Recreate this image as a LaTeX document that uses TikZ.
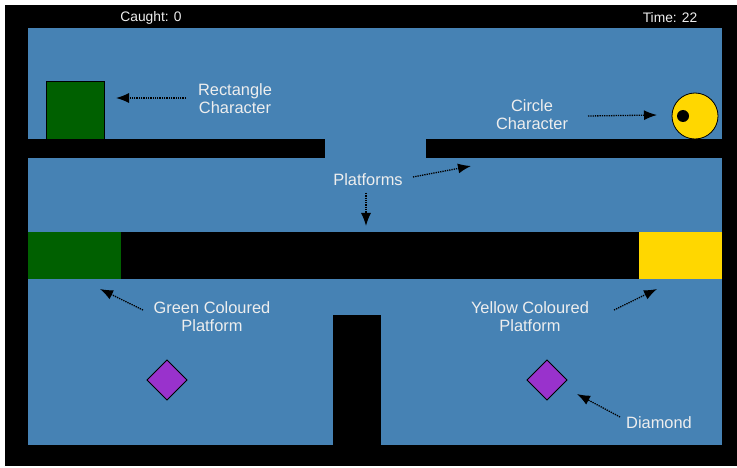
\documentclass[tikz,border=0pt]{standalone}
\usepackage{fontspec}
\setmainfont{Liberation Sans}
\usetikzlibrary{arrows.meta}
\definecolor{bgblue}{HTML}{4682B4}
\definecolor{dgreen}{HTML}{006000}
\definecolor{gold}{HTML}{FFD700}
\definecolor{purp}{HTML}{9932CC}
\definecolor{txt}{HTML}{EEEEEE}
\begin{document}
\begin{tikzpicture}[x=1pt,y=-1pt,
  lbl/.style={text=txt, align=center, inner sep=0pt, font=\fontsize{16.4}{18}\selectfont},
  hud/.style={text=txt, inner sep=0pt, font=\fontsize{13.8}{16}\selectfont},
  pointer/.style={densely dotted, line width=1.3pt, -{Latex[length=13pt,width=10pt]}},
  solidwall/.style={fill=black}]
\useasboundingbox (0,0) rectangle (737,468);
\fill[white] (0,0) rectangle (737,468);
\fill[black] (5,5) rectangle (737,466);
\fill[bgblue] (28,28) rectangle (722,445);
% platforms
\fill[solidwall] (28,139) rectangle (325,158);
\fill[solidwall] (426,139) rectangle (722,158);
\fill[solidwall] (28,232) rectangle (722,279);
\fill[dgreen] (28,232) rectangle (121,279);
\fill[gold] (639,232) rectangle (722,279);
\fill[solidwall] (333,315) rectangle (381,445);
% characters
\draw[fill=dgreen, draw=black, line width=0.8pt] (46,81) rectangle (104,139);
\draw[fill=gold, draw=black, line width=0.8pt] (695,116) circle (23pt);
\fill[black] (683,116) circle (6pt);
% diamonds
\draw[fill=purp, draw=black, line width=0.8pt] (167,360) -- (187,380) -- (167,400) -- (147,380) -- cycle;
\draw[fill=purp, draw=black, line width=0.8pt] (547,360) -- (567,380) -- (547,400) -- (527,380) -- cycle;
% HUD
\node[hud] (caught) at (151,18) {Caught: 0};
\node[hud] (time) at (670,18) {Time: 22};
% labels
\node[lbl] (rectlbl) at (235,99) {Rectangle\\Character};
\node[lbl] (circlbl) at (532,115) {Circle\\Character};
\node[lbl] (platlbl) at (368,180) {Platforms};
\node[lbl] (greenlbl) at (212,317) {Green Coloured\\Platform};
\node[lbl] (yellowlbl) at (530,317) {Yellow Coloured\\Platform};
\node[lbl] (diamlbl) at (659,423) {Diamond};
% arrow endpoints
\coordinate (rectT) at (186,98);
\coordinate (rectH) at (116,98);
\coordinate (circT) at (588,116);
\coordinate (circH) at (657,115);
\coordinate (platT1) at (366,193);
\coordinate (platH1) at (366,226);
\coordinate (platT2) at (413,177);
\coordinate (platH2) at (471,166);
\coordinate (greenT) at (143,310);
\coordinate (greenH) at (100,289);
\coordinate (yellowT) at (614,310);
\coordinate (yellowH) at (657,289);
\coordinate (diamT) at (620,417);
\coordinate (diamH) at (577,394);
\draw[pointer] (rectT) -- (rectH);
\draw[pointer] (circT) -- (circH);
\draw[pointer] (platT1) -- (platH1);
\draw[pointer] (platT2) -- (platH2);
\draw[pointer] (greenT) -- (greenH);
\draw[pointer] (yellowT) -- (yellowH);
\draw[pointer] (diamT) -- (diamH);
\end{tikzpicture}
\end{document}
